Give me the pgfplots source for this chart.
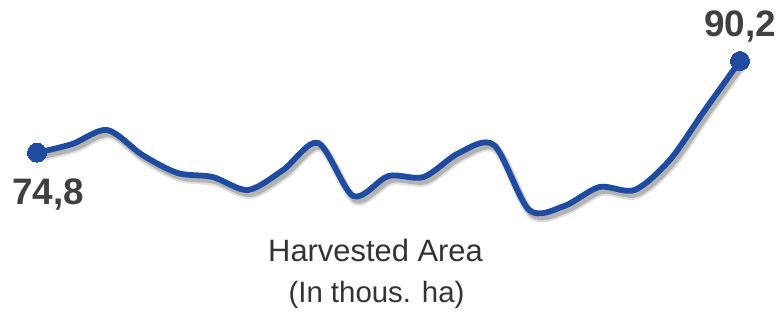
\documentclass[border=0pt]{standalone}
\usepackage{pgfplots}
\pgfplotsset{compat=1.18}
\usepackage{fontspec}
\setmainfont{Liberation Sans}
\definecolor{lineblue}{RGB}{31,76,160}
\definecolor{txt}{RGB}{64,64,64}
\definecolor{ttl}{RGB}{51,51,51}
\pgfplotstableread{
x y
0 74.80
1 76.26
2 78.61
3 74.41
4 71.39
5 70.72
6 68.54
7 71.89
8 76.43
9 67.53
10 70.89
11 70.72
12 74.75
13 76.09
14 65.18
15 65.85
16 69.04
17 68.54
18 73.57
19 81.97
20 90.20
}\datatable
\begin{document}
\begin{tikzpicture}
\begin{axis}[
  scale only axis,
  width=779bp, height=312bp,
  xmin=-1.0526, xmax=21.109,
  ymin=48.05, ymax=100.44,
  hide axis,
  clip=false,
]
\path (rel axis cs:0,0) rectangle (rel axis cs:1,1);
\addplot[black, opacity=0.12, line width=9bp, smooth, no marks,
  transform canvas={xshift=2.5bp,yshift=-4.5bp}] table[x=x,y=y]{\datatable};
\addplot[black, opacity=0.2, line width=6bp, smooth, no marks,
  transform canvas={xshift=2.5bp,yshift=-4bp}] table[x=x,y=y]{\datatable};
\addplot[lineblue, line width=5.8bp, smooth, mark=*, mark indices={1,21},
  mark size=9.5bp, mark options={fill=lineblue, draw=lineblue, line width=0pt}]
  table[x=x,y=y]{\datatable};
\node[anchor=base west, text=txt, inner sep=0pt, font=\fontsize{37}{40}\selectfont\bfseries]
  at (rel axis cs:{12/779},{1-205/312}) {74,8};
\node[anchor=base east, text=txt, inner sep=0pt, font=\fontsize{37}{40}\selectfont\bfseries]
  at (rel axis cs:{776/779},{1-37/312}) {90,2};
\node[anchor=base, text=ttl, inner sep=0pt, font=\fontsize{31}{34}\selectfont]
  at (rel axis cs:{375.5/779},{1-262/312}) {Harvested Area};
\node[anchor=base, text=ttl, inner sep=0pt, font=\fontsize{29.5}{34}\selectfont]
  at (rel axis cs:{376.5/779},{1-303/312}) {(In thous. ha)};
\end{axis}
\end{tikzpicture}
\end{document}
